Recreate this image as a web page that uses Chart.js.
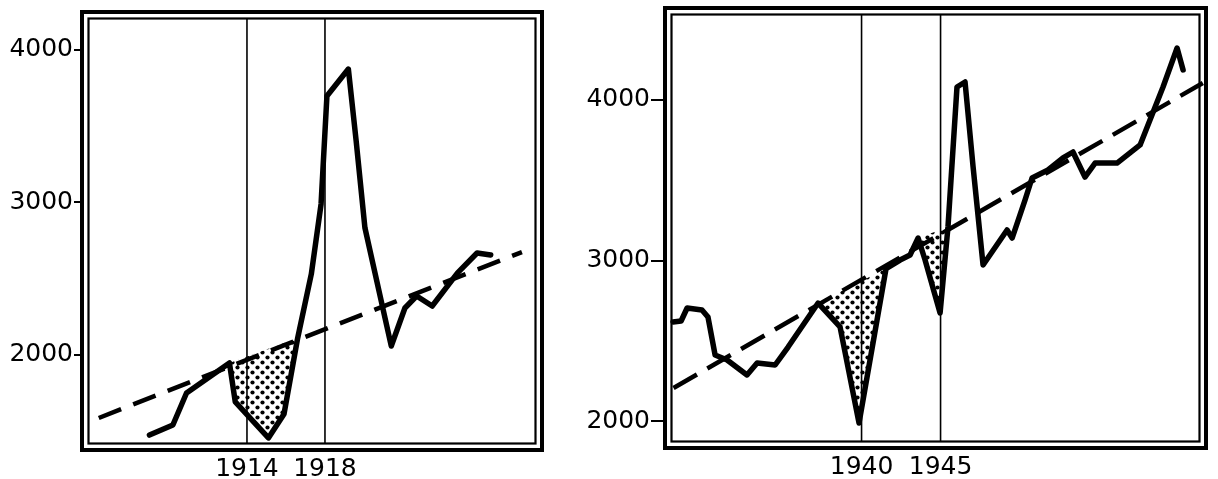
<!DOCTYPE html>
<html>
<head>
<meta charset="utf-8">
<script src="https://cdn.jsdelivr.net/npm/chart.js@4.4.1/dist/chart.umd.min.js"></script>
<style>
  html, body { margin: 0; background: #fff; }
  #wrap { position: relative; width: 1218px; height: 479px; }
  .panel { position: absolute; top: 0; height: 479px; }
  #p1 { left: 0; width: 560px; }
  #p2 { left: 560px; width: 658px; }
</style>
</head>
<body>
<div id="wrap">
  <div class="panel" id="p1"><canvas id="c1"></canvas></div>
  <div class="panel" id="p2"><canvas id="c2"></canvas></div>
</div>
<script>
// ---- first world war panel ----
const ww1Years  = [1909.0, 1910.2, 1910.9, 1913.1, 1913.4, 1915.1, 1915.9, 1916.6, 1917.3, 1917.8, 1918.1,
                   1919.2, 1919.6, 1920.05, 1921.4, 1922.1, 1922.7, 1923.5, 1924.8, 1925.8, 1926.5];
const ww1Values = [1475, 1541, 1751, 1948, 1692, 1456, 1613, 2111, 2531, 2990, 3698,
                   3875, 3403, 2833, 2059, 2308, 2387, 2321, 2538, 2669, 2656];
const ww1TrendYears  = [1906.4, 1928.1];
const ww1TrendValues = [1587, 2675];
const ww1WarYears = [1914, 1918];
const ww1Dips = [[3, 7]];   // index ranges of the dotted areas

// ---- second world war panel ----
const ww2Years  = [1928.07, 1928.58, 1928.96, 1929.9, 1930.28, 1930.73, 1931.49, 1932.75, 1933.39, 1934.53,
                   1935.35, 1937.25, 1938.64, 1939.84, 1941.55, 1942.44, 1943.07, 1943.58, 1944.02, 1944.97,
                   1945.47, 1946.04, 1946.55, 1947.06, 1947.69, 1949.21, 1949.53, 1950.35, 1950.79, 1951.8,
                   1952.75, 1953.38, 1954.14, 1954.78, 1956.17, 1957.63, 1959.08, 1959.97, 1960.35];
const ww2Values = [2617, 2623, 2704, 2692, 2648, 2411, 2380, 2287, 2361, 2349,
                   2461, 2735, 2586, 1988, 2950, 3003, 3034, 3140, 3003, 2673,
                   3209, 4081, 4112, 3583, 2972, 3190, 3140, 3377, 3514, 3564,
                   3639, 3676, 3520, 3607, 3607, 3720, 4081, 4324, 4187];
const ww2TrendYears  = [1928.1, 1961.6];
const ww2TrendValues = [2206, 4106];
const ww2WarYears = [1940, 1945];
const ww2Dips = [[11, 14], [17, 20]];

const yTicks = [2000, 3000, 4000];

const FONT = { family: "'DejaVu Sans', sans-serif", size: 25 };

// dotted fill used for the war dips
function dotPattern() {
  const c = document.createElement("canvas");
  c.width = 10; c.height = 10;
  const g = c.getContext("2d");
  g.fillStyle = "#000";
  [[2.5, 2.5], [7.5, 7.5]].forEach(([x, y]) => {
    g.beginPath(); g.arc(x, y, 2.1, 0, Math.PI * 2); g.fill();
  });
  return g.createPattern(c, "repeat");
}

const pts = (xs, ys) => xs.map((x, i) => ({ x, y: ys[i] }));

// war-year verticals and the double frame
const framePlugin = {
  id: "frames",
  beforeDatasetsDraw(chart, args, opts) {
    const { ctx, chartArea: a, scales } = chart;
    ctx.save();
    ctx.strokeStyle = "#000";
    ctx.lineWidth = 1.6;
    opts.warYears.forEach(yr => {
      const px = scales.x.getPixelForValue(yr);
      ctx.beginPath();
      ctx.moveTo(px, a.top + opts.inset);
      ctx.lineTo(px, a.bottom - opts.inset);
      ctx.stroke();
    });
    ctx.restore();
  },
  afterDatasetsDraw(chart, args, opts) {
    const { ctx, chartArea: a } = chart;
    ctx.save();
    ctx.strokeStyle = "#000";
    ctx.lineWidth = 4;
    ctx.strokeRect(a.left, a.top, a.right - a.left, a.bottom - a.top);
    ctx.lineWidth = 2.2;
    const i = opts.inset;
    ctx.strokeRect(a.left + i, a.top + i, a.right - a.left - 2 * i, a.bottom - a.top - 2 * i);
    ctx.restore();
  }
};

function makePanel(id, p) {
  const pattern = dotPattern();
  const shades = p.dips.map(([s, e]) => ({
    data: pts(p.years.slice(s, e + 1), p.values.slice(s, e + 1)),
    borderColor: "rgba(0,0,0,0)",
    borderWidth: 0,
    backgroundColor: pattern,
    fill: "shape",
    pointRadius: 0
  }));

  return new Chart(document.getElementById(id), {
    type: "line",
    data: {
      datasets: [
        {
          data: pts(p.years, p.values),
          borderColor: "#000",
          borderWidth: 5.5,
          borderJoinStyle: "round",
          borderCapStyle: "round",
          pointRadius: 0,
          fill: false
        },
        {
          data: pts(p.trendYears, p.trendValues),
          borderColor: "#000",
          borderWidth: 4.5,
          borderDash: p.dash,
          pointRadius: 0,
          fill: false
        },
        ...shades
      ]
    },
    options: {
      responsive: true,
      maintainAspectRatio: false,
      animation: false,
      parsing: false,
      layout: { autoPadding: false, padding: { top: p.padTop, right: p.padRight, left: 0, bottom: 0 } },
      scales: {
        x: {
          type: "linear",
          min: p.xMin, max: p.xMax,
          afterBuildTicks: s => { s.ticks = p.warYears.map(v => ({ value: v })); },
          afterFit: s => { s.height = p.axisH; s.paddingLeft = 0; s.paddingRight = 0; },
          ticks: { font: FONT, color: "#000", padding: 4, maxRotation: 0, autoSkip: false, callback: v => String(v) },
          grid: { display: false, drawTicks: false },
          border: { display: false }
        },
        y: {
          type: "linear",
          min: p.yMin, max: p.yMax,
          afterBuildTicks: s => { s.ticks = yTicks.map(v => ({ value: v })); },
          afterFit: s => { s.width = p.axisW; s.paddingTop = 0; s.paddingBottom = 0; },
          ticks: { font: FONT, color: "#000", padding: 1, callback: v => String(v) },
          grid: { drawOnChartArea: false, drawTicks: true, tickLength: p.tickLen, color: "#000", lineWidth: 2 },
          border: { display: false }
        }
      },
      plugins: {
        legend: { display: false },
        tooltip: { enabled: false },
        frames: { warYears: p.warYears, inset: 6.5 }
      }
    },
    plugins: [framePlugin]
  });
}

makePanel("c1", {
  years: ww1Years, values: ww1Values,
  trendYears: ww1TrendYears, trendValues: ww1TrendValues,
  warYears: ww1WarYears, dips: ww1Dips,
  xMin: 1905.54, xMax: 1929.13, yMin: 1377, yMax: 4249,
  axisW: 82, axisH: 29, padTop: 12, padRight: 18, tickLen: 8,
  dash: [24, 13]
});

makePanel("c2", {
  years: ww2Years, values: ww2Values,
  trendYears: ww2TrendYears, trendValues: ww2TrendValues,
  warYears: ww2WarYears, dips: ww2Dips,
  xMin: 1927.56, xMax: 1961.8, yMin: 1832, yMax: 4573,
  axisW: 105, axisH: 31, padTop: 8, padRight: 12, tickLen: 14,
  dash: [27, 12]
});
</script>
</body>
</html>
